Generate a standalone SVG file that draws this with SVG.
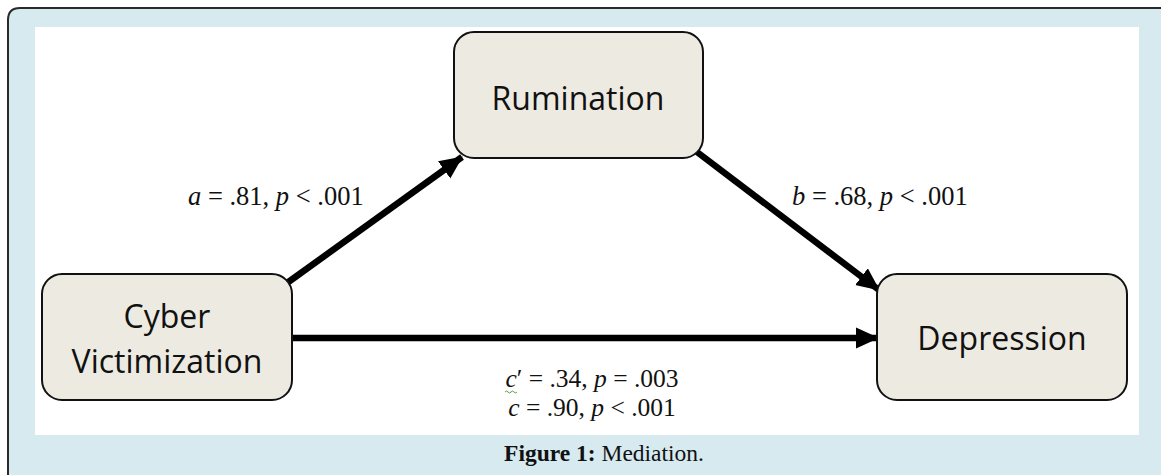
<svg xmlns="http://www.w3.org/2000/svg" width="1161" height="475" viewBox="0 0 1161 475">
<style>
.node rect{fill:#edebe1;stroke:#111;stroke-width:2}
.node text{font-family:"Open Sans","Noto Sans",sans-serif;font-size:32px;fill:#111;text-anchor:middle}
.lbl{font-family:"Liberation Serif","Times New Roman",serif;font-size:26.5px;fill:#111}
.lbl2{font-size:25.5px}
.conn line{stroke:#000;stroke-width:6.5}
</style>
<defs>
<marker id="ah" markerUnits="userSpaceOnUse" markerWidth="24" markerHeight="24" viewBox="0 0 24 24" refX="22" refY="12" orient="auto">
<path d="M0,1.5 L23,12 L0,22.5 Z" fill="#000"/>
</marker>
</defs>
<path d="M8,480 L8,20 Q8,8 20,8 L1166,8 L1166,480 Z" fill="#d6eaf0" stroke="#2a2a2a" stroke-width="2"/>
<rect x="35" y="27" width="1104" height="408" fill="#fff"/>
<g class="conn">
<line x1="287" y1="283" x2="462" y2="157" marker-end="url(#ah)"/>
<line x1="697" y1="152" x2="879" y2="290" marker-end="url(#ah)"/>
<line x1="292" y1="338" x2="878" y2="338" marker-end="url(#ah)"/>
</g>
<g id="rumination" class="node">
<rect x="454" y="32" width="249" height="126" rx="20"/>
<text x="578" y="110">Rumination</text>
</g>
<g id="cyber" class="node">
<rect x="42" y="274" width="250" height="126" rx="20"/>
<text x="167" y="328">Cyber</text>
<text x="167" y="373">Victimization</text>
</g>
<g id="depression" class="node">
<rect x="877" y="274" width="250" height="126" rx="20"/>
<text x="1002" y="350">Depression</text>
</g>
<text class="lbl" x="188" y="205"><tspan font-style="italic">a</tspan> = .81, <tspan font-style="italic">p</tspan> &lt; .001</text>
<text class="lbl" x="792" y="205"><tspan font-style="italic">b</tspan> = .68, <tspan font-style="italic">p</tspan> &lt; .001</text>
<text class="lbl lbl2" x="592" y="387" text-anchor="middle"><tspan font-style="italic">c</tspan>′ = .34, <tspan font-style="italic">p</tspan> = .003</text>
<text class="lbl lbl2" x="592" y="416" text-anchor="middle"><tspan font-style="italic">c</tspan> = .90, <tspan font-style="italic">p</tspan> &lt; .001</text>
<path d="M505,392 q1.5,-2 3,0 t3,0 t3,0 t3,0" fill="none" stroke="#5a9e3c" stroke-width="1"/>
<text x="604" y="461" text-anchor="middle" font-family="Liberation Serif,serif" font-size="23.5" fill="#111"><tspan font-weight="bold">Figure 1:</tspan> Mediation.</text>
</svg>
